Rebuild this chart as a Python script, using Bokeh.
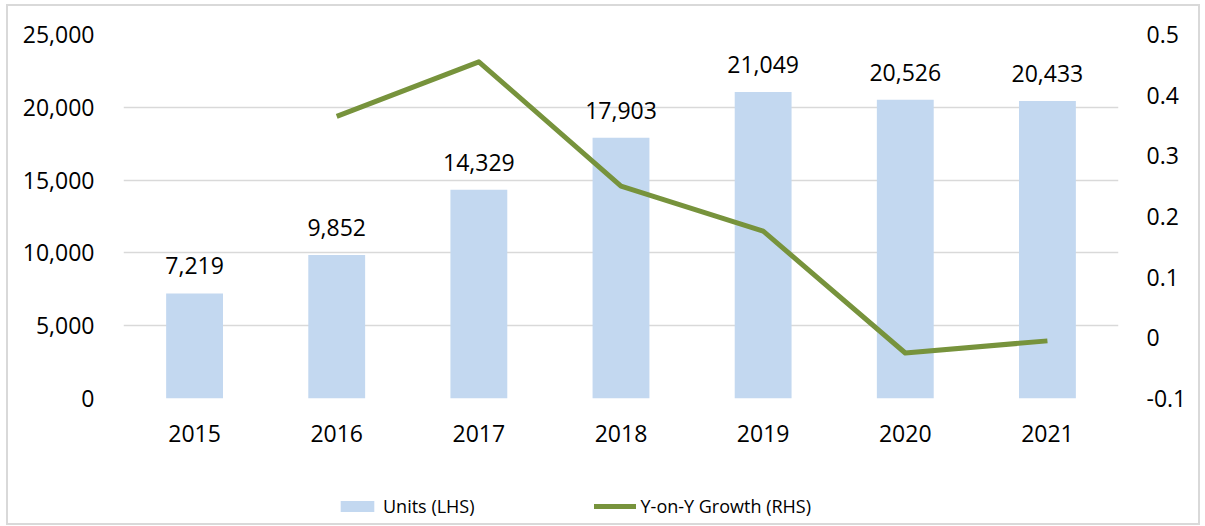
from bokeh.plotting import figure
from bokeh.layouts import column
from bokeh.models import (ColumnDataSource, FactorRange, Range1d, LinearAxis,
                          LabelSet, Legend, LegendItem, FixedTicker,
                          NumeralTickFormatter)
from bokeh.core.properties import value
from bokeh.embed import file_html
from bokeh.resources import INLINE

years = ["2015", "2016", "2017", "2018", "2019", "2020", "2021"]
units = [7219, 9852, 14329, 17903, 21049, 20526, 20433]
growth_years = ["2016", "2017", "2018", "2019", "2020", "2021"]
growth = [0.365, 0.455, 0.250, 0.176, -0.025, -0.005]
left_ticks = [0, 5000, 10000, 15000, 20000, 25000]
right_ticks = [-0.1, 0, 0.1, 0.2, 0.3, 0.4, 0.5]
series_names = ["Units (LHS)", "Y-on-Y Growth (RHS)"]

FONT = "Open Sans"
BAR_COLOR = "#C3D8F0"
LINE_COLOR = "#77933C"
GRID = "#D9D9D9"

bar_src = ColumnDataSource(dict(x=years, y=units,
                                label=[f"{u:,}" for u in units]))
line_src = ColumnDataSource(dict(x=growth_years, y=growth))

# ---- main chart ----
p = figure(frame_width=995, frame_height=364, output_backend="svg",
           toolbar_location=None,
           x_range=FactorRange(*years), y_range=Range1d(0, 25000),
           min_border_left=115, min_border_right=80,
           min_border_top=28, min_border_bottom=70)
p.extra_y_ranges = {"rhs": Range1d(-0.1, 0.5)}

p.vbar(x="x", top="y", width=0.4, source=bar_src,
       fill_color=BAR_COLOR, line_color=None)
p.line(x="x", y="y", source=line_src, y_range_name="rhs",
       line_color=LINE_COLOR, line_width=5, line_join="round")

labels = LabelSet(x="x", y="y", text="label", source=bar_src,
                  text_align="center", text_baseline="alphabetic", y_offset=19,
                  text_font=value(FONT), text_font_size="23px",
                  text_color="black")
p.add_layout(labels)

p.yaxis.ticker = FixedTicker(ticks=left_ticks)
p.yaxis.formatter = NumeralTickFormatter(format="0,0")
raxis = LinearAxis(y_range_name="rhs", ticker=FixedTicker(ticks=right_ticks),
                   formatter=NumeralTickFormatter(format="0.[0]"))
p.add_layout(raxis, "right")

for ax in [p.yaxis[0], raxis, p.xaxis[0]]:
    ax.axis_line_color = None
    ax.major_tick_line_color = None
    ax.minor_tick_line_color = None
    ax.major_label_text_font = FONT
    ax.major_label_text_font_size = "23px"
    ax.major_label_text_color = "black"
p.yaxis[0].major_label_standoff = 23
raxis.major_label_standoff = 22
p.xaxis.major_label_standoff = 20

p.xgrid.grid_line_color = None
p.ygrid.grid_line_color = GRID
p.ygrid.grid_line_width = 1.5
p.outline_line_color = None

# ---- legend strip (same series, hidden; only their legend keys show) ----
lg = figure(frame_width=1190, frame_height=55, output_backend="svg",
            toolbar_location=None, x_range=FactorRange(*years),
            y_range=Range1d(-200000, -100000),
            min_border=0, x_axis_type=None, y_axis_type=None)
lg.grid.visible = False
lg.outline_line_color = None
r_bar = lg.vbar(x="x", top="y", width=0.4, source=bar_src,
                fill_color=BAR_COLOR, line_color=None)
r_line = lg.line(x="x", y="y", source=line_src, line_color=LINE_COLOR,
                 line_width=5, line_cap="round")
r_bar.visible = False
r_line.visible = False
legend = Legend(items=[LegendItem(label=series_names[0], renderers=[r_bar]),
                       LegendItem(label=series_names[1], renderers=[r_line])],
                orientation="horizontal", location=(328, 5),
                glyph_width=42, glyph_height=14, label_standoff=5, spacing=119,
                label_text_font=FONT, label_text_font_size="18px",
                label_text_color="black", border_line_color=None,
                background_fill_alpha=0, margin=0, padding=0)
lg.add_layout(legend, "center")

layout = column(p, lg, spacing=0)
layout.styles = {"border": "2px solid #D9D9D9", "margin-left": "6px",
                 "margin-top": "4px"}

open("out.html", "w").write(file_html(layout, INLINE))
